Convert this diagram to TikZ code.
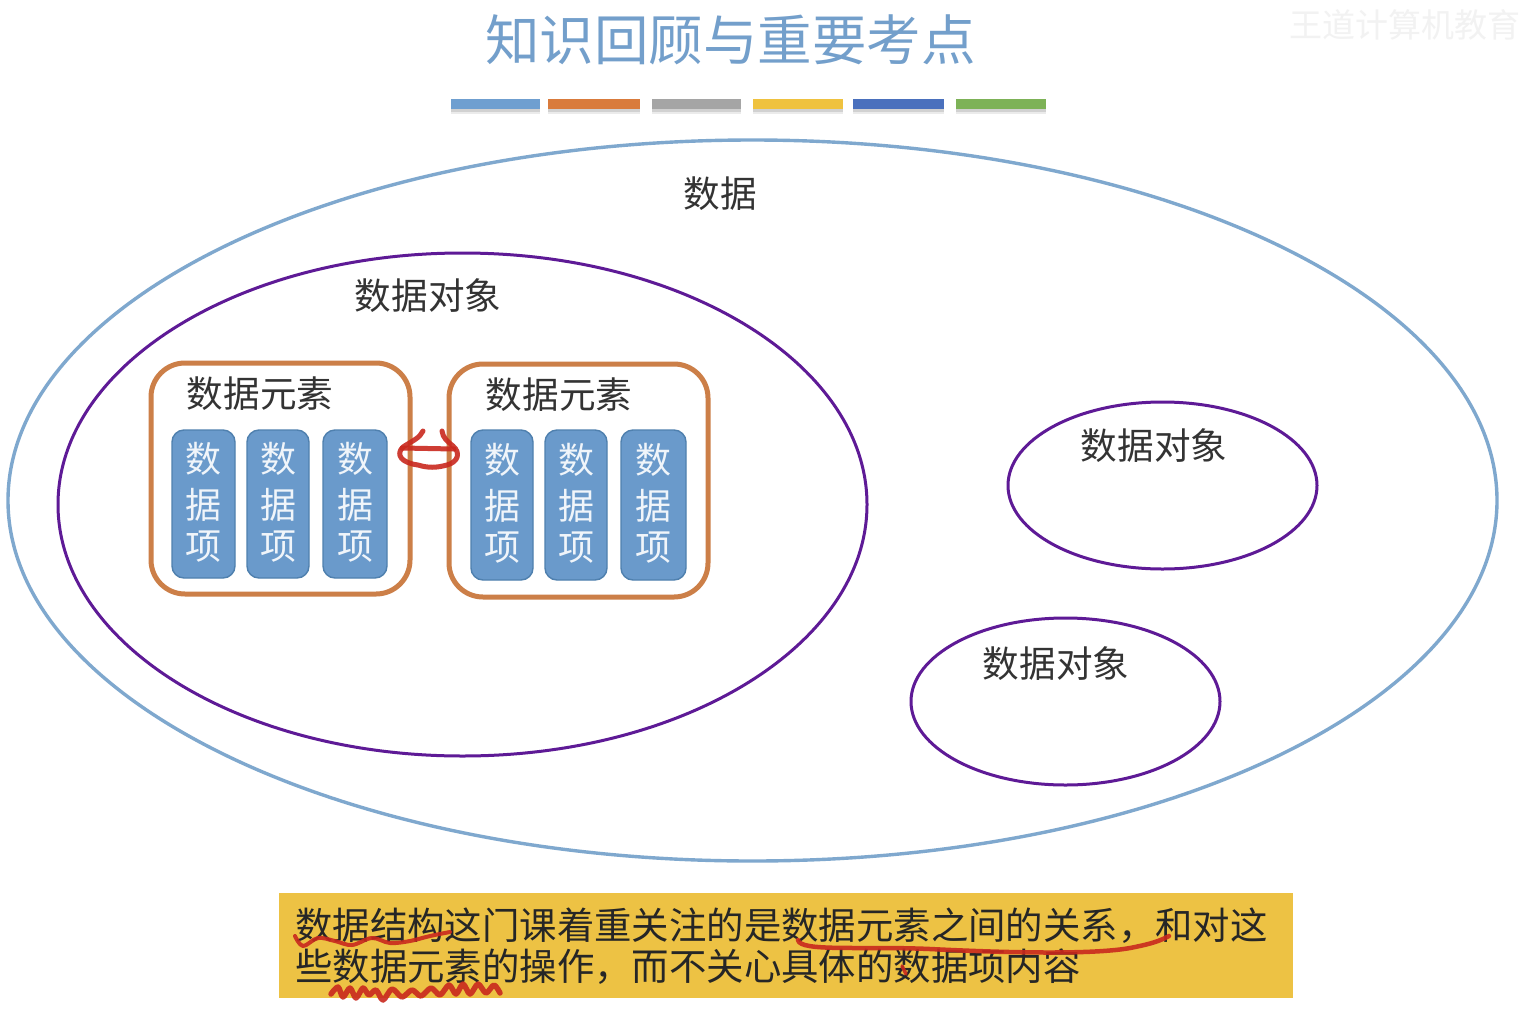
\documentclass[tikz,border=0pt]{standalone}
\usepackage{fontspec}
\setmainfont{Noto Sans CJK SC}
\usetikzlibrary{shapes.geometric}
\definecolor{cblue}{HTML}{6F9FD0}
\definecolor{corange}{HTML}{D97B3C}
\definecolor{cgray}{HTML}{A5A5A5}
\definecolor{cyellow}{HTML}{EFC23F}
\definecolor{cnavy}{HTML}{4A70BD}
\definecolor{cgreen}{HTML}{7DB257}
\definecolor{cpurple}{HTML}{5E1A96}
\definecolor{cout}{HTML}{7FA8CE}
\definecolor{cbox}{HTML}{CC7F48}
\definecolor{citem}{HTML}{6A9ACB}
\definecolor{citemd}{HTML}{4F80AE}
\definecolor{ctitle}{HTML}{739FCB}
\definecolor{cnote}{HTML}{EDC244}
\definecolor{cred}{HTML}{C9281E}
\newcommand{\fs}[1]{\fontsize{#1}{#1}\selectfont}
\tikzset{
  x=1pt,y=-1pt,
  outerell/.style={ellipse,draw=cout,line width=3.4pt,inner sep=0pt},
  objell/.style={ellipse,draw=cpurple,line width=3pt,inner sep=0pt},
  label36/.style={inner sep=0pt,text=black!80,font=\fs{36.6}},
  elembox/.style={draw=cbox,line width=5pt,rounded corners=34pt,inner sep=0pt,fill=white},
  item/.style={draw=citemd,line width=1.4pt,fill=citem,rounded corners=12pt,inner sep=0pt},
  itemtext/.style={inner sep=0pt,text=white!90!citem,font=\fs{36}},
  ink/.style={draw=cred,line width=5pt,line cap=round,line join=round,opacity=.9},
}
\newcommand{\barr}[3]{%
  \fill[black!8] (#1,103) rectangle (#2,114);
  \fill[black!18] (#1,103) rectangle (#2,112);
  \fill[#3] (#1,99) rectangle (#2,109);
}
\newcommand{\itemcol}[6]{%
  \path[item] (#2,#4) rectangle (#3,#5);
  \node[itemtext] (#1a) at ({(#2+#3)/2},#6) {数};
  \node[itemtext] (#1b) at ({(#2+#3)/2},#6+46) {据};
  \node[itemtext] (#1c) at ({(#2+#3)/2},#6+88) {项};
}
\begin{document}
\begin{tikzpicture}
\useasboundingbox (0,0) rectangle (1526,1015);
\fill[white] (0,0) rectangle (1526,1015);
% title
\node[inner sep=0pt,text=ctitle,font=\fs{54.5}] (title) at (730.5,40) {知识回顾与重要考点};
\node[inner sep=0pt,text=black!5,font=\fs{33}] (mark) at (1405,25) {王道计算机教育};
\barr{451}{540}{cblue}
\barr{548}{640}{corange}
\barr{652}{741}{cgray}
\barr{753}{843}{cyellow}
\barr{853}{944}{cnavy}
\barr{956}{1046}{cgreen}
% ellipses
\node[outerell,minimum width=1489pt,minimum height=721pt] (data) at (752.5,500.5) {};
\node[objell,minimum width=809pt,minimum height=503pt] (obj1) at (462.5,504.5) {};
\node[objell,minimum width=309pt,minimum height=167pt] (obj2) at (1162.5,485.5) {};
\node[objell,minimum width=309pt,minimum height=167pt] (obj3) at (1065.5,701.5) {};
\node[label36] (tdata) at (720,194) {数据};
\node[label36] (tobj1) at (428,296) {数据对象};
\node[label36] (tobj2) at (1154,446) {数据对象};
\node[label36] (tobj3) at (1056,664) {数据对象};
% data elements
\path[elembox] (151,363) rectangle (410,594);
\path[elembox] (449,364) rectangle (708,597);
\node[label36] (tel1) at (260,394) {数据元素};
\node[label36] (tel2) at (559,395) {数据元素};
\itemcol{A}{172}{235}{430}{578}{459}
\itemcol{B}{247}{309}{430}{578}{459}
\itemcol{C}{323}{387}{430}{578}{459}
\itemcol{D}{471}{533}{430}{580}{460}
\itemcol{E}{545}{607}{430}{580}{460}
\itemcol{F}{621}{686}{430}{580}{460}
% red relation mark
\draw[ink] (423,431) .. controls (420,438) and (412,441) .. (403,447)
  .. controls (395,455) and (402,463) .. (418,465)
  .. controls (428,468) and (436,468) .. (447,465)
  .. controls (458,462) and (461,453) .. (453,446)
  .. controls (447,441) and (443,438) .. (442,431);
\draw[ink] (402,448) -- (454,449);
% note
\fill[cnote] (279,893) rectangle (1293,998);
\node[inner sep=0pt,anchor=west,text=black!85,font=\fs{37.4}] (note1) at (295,926) {数据结构这门课着重关注的是数据元素之间的关系，和对这};
\node[inner sep=0pt,anchor=west,text=black!85,font=\fs{37.4}] (note2) at (295,967) {些数据元素的操作，而不关心具体的数据项内容};
% ink under the note
\draw[ink,line width=4pt] plot[smooth,tension=.6] coordinates {(295,936) (303,946) (318,938) (335,941) (352,945) (372,938) (390,943) (410,941) (430,936) (450,932)};
\draw[ink,line width=4.5pt] (798,940) .. controls (800,952) and (860,946) .. (930,949)
  .. controls (1010,953) and (1100,955) .. (1135,947)
  .. controls (1150,944) and (1160,941) .. (1169,936);
\draw[ink,line width=3.5pt] (902,966) -- (906,974);
\draw[ink,line width=5.5pt] plot[smooth,tension=.5] coordinates {(331,994) (338,987) (343,997) (350,988) (356,998) (363,988) (369,995) (376,990) (383,1000) (392,989) (402,997) (412,990) (421,996) (431,988) (440,995) (449,985) (456,994) (463,984) (470,994) (478,984) (486,993) (494,985) (500,993)};
\end{tikzpicture}
\end{document}
